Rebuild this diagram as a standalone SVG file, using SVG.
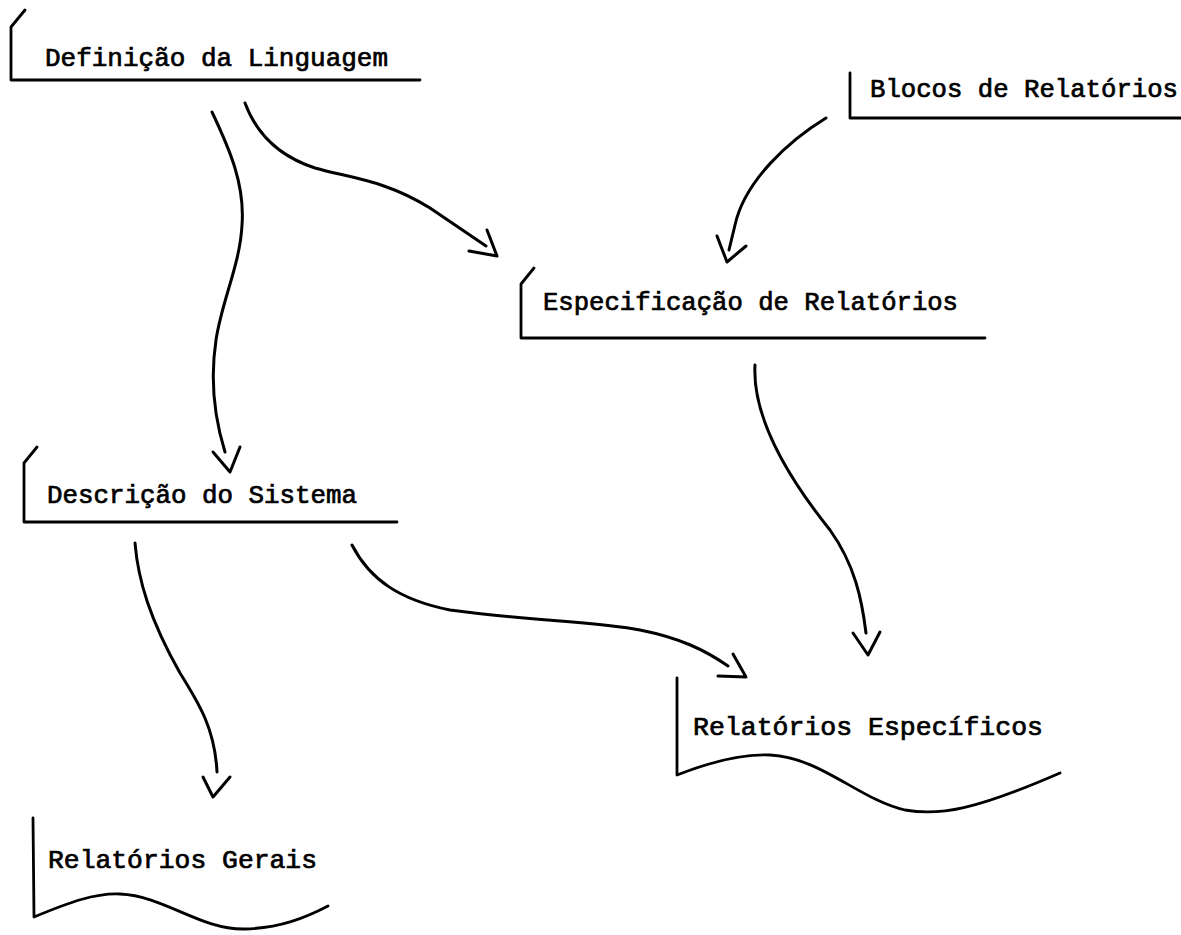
<svg xmlns="http://www.w3.org/2000/svg" width="1181" height="935" viewBox="0 0 1181 935">
  <style>
    .frame { fill: none; stroke: #000; stroke-width: 2.8; stroke-linecap: round; stroke-linejoin: round; }
    .wire { fill: none; stroke: #000; stroke-width: 3; stroke-linecap: round; stroke-linejoin: round; }
    .label { font-family: "Liberation Mono", "DejaVu Sans Mono", monospace; font-size: 25px; fill: #000; stroke: #000; stroke-width: 0.7; }
  </style>
  <rect width="1181" height="935" fill="#fff"/>

  <!-- process steps (bracket frames) -->
  <g id="definicao">
    <path class="frame" d="M25,10 L11,27 L11,80 L420,80"/>
    <text class="label" x="45" y="66" textLength="343" lengthAdjust="spacingAndGlyphs">Definição da Linguagem</text>
  </g>
  <g id="blocos">
    <path class="frame" d="M850,73 L850,118 L1181,118"/>
    <text class="label" x="870" y="97" textLength="308" lengthAdjust="spacingAndGlyphs">Blocos de Relatórios</text>
  </g>
  <g id="especificacao">
    <path class="frame" d="M534,268 L521,284 L521,338 L985,338"/>
    <text class="label" x="543" y="310" textLength="415" lengthAdjust="spacingAndGlyphs">Especificação de Relatórios</text>
  </g>
  <g id="descricao">
    <path class="frame" d="M37,447 L24,463 L24,522 L397,522"/>
    <text class="label" x="47" y="503" textLength="310" lengthAdjust="spacingAndGlyphs">Descrição do Sistema</text>
  </g>

  <!-- output documents (wavy bottom) -->
  <g id="rel-especificos">
    <path class="frame" d="M677,678 L677,775 C710,762 740,754 770,755 C820,757 860,800 905,810 C940,816 975,810 1060,773"/>
    <text class="label" x="693" y="735" textLength="350" lengthAdjust="spacingAndGlyphs">Relatórios Específicos</text>
  </g>
  <g id="rel-gerais">
    <path class="frame" d="M33,818 L34,917 C70,902 95,893 120,894 C165,896 200,930 245,929 C280,928 305,918 328,906"/>
    <text class="label" x="48" y="868" textLength="269" lengthAdjust="spacingAndGlyphs">Relatórios Gerais</text>
  </g>

  <!-- hand-drawn connectors with open V heads -->
  <g id="connectors">
    <path class="wire" d="M212,112 C230,150 245,185 242,225 C240,265 222,300 216,340 C210,380 215,420 225,452"/>
    <path class="wire" d="M213,452 L230,472 L240,447"/>

    <path class="wire" d="M245,103 C255,130 275,155 315,168 C350,178 385,180 430,208 L486,246"/>
    <path class="wire" d="M487,230 L497,256 L469,251"/>

    <path class="wire" d="M826,118 C790,140 745,180 735,225 L729,250"/>
    <path class="wire" d="M717,236 L727,262 L746,246"/>

    <path class="wire" d="M755,365 C752,420 790,480 830,530 C855,565 862,600 866,633"/>
    <path class="wire" d="M853,633 L868,655 L880,632"/>

    <path class="wire" d="M135,543 C138,580 150,620 180,673 C200,705 215,730 217,772"/>
    <path class="wire" d="M203,777 L213,797 L230,777"/>

    <path class="wire" d="M352,545 C370,580 400,600 450,610 C520,620 600,622 640,630 C680,638 705,650 728,666"/>
    <path class="wire" d="M733,654 L746,677 L718,676"/>
  </g>
</svg>
